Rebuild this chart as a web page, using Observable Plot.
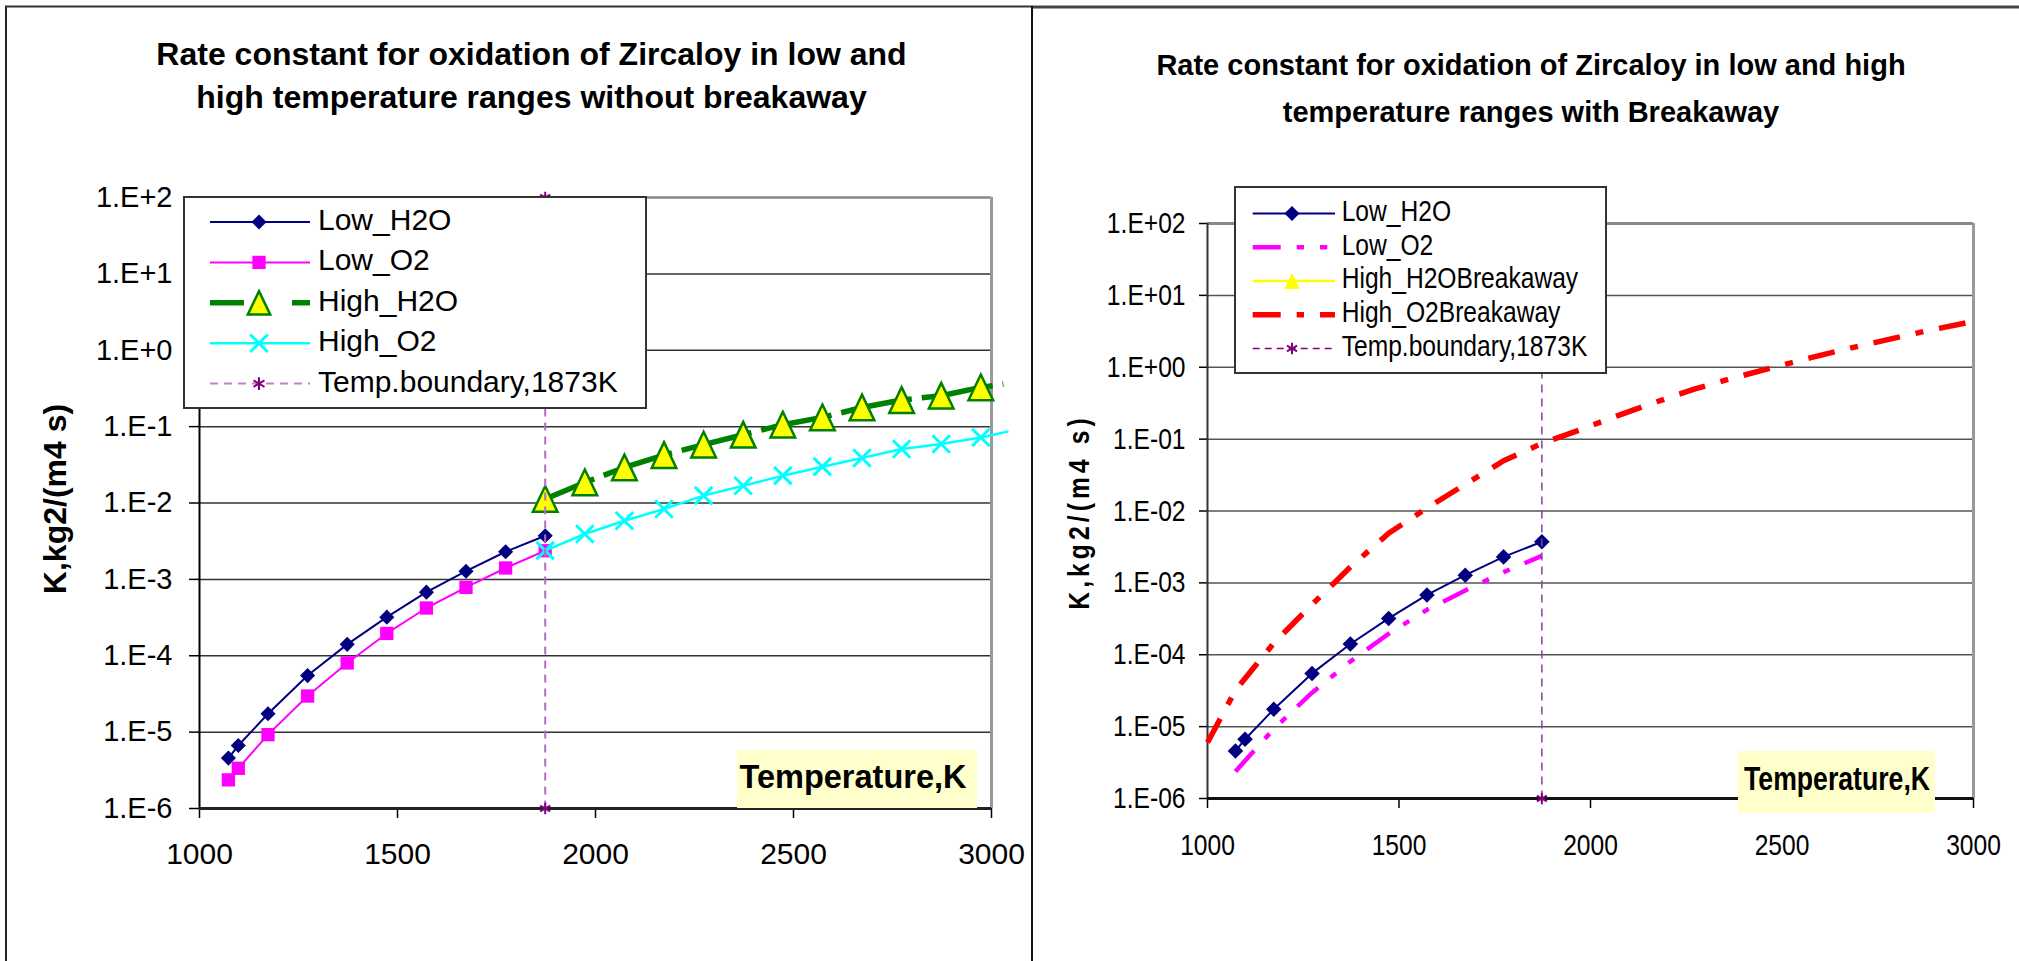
<!DOCTYPE html>
<html><head><meta charset="utf-8">
<script src="https://cdn.jsdelivr.net/npm/d3@7"></script>
<script src="https://cdn.jsdelivr.net/npm/@observablehq/plot@0.6"></script>
<style>
html,body{margin:0;padding:0;background:#fff;}
#root{position:relative;width:2019px;height:961px;overflow:hidden;background:#fff;}
#root svg{position:absolute;}
</style></head><body><div id="root"></div>
<script>
// ---------------- DATA ----------------
const xDomain = [1000, 3000];
const yDomain = [1e-6, 100];
const xTicks = [1000, 1500, 2000, 2500, 3000];
const yTicks = [1e-6, 1e-5, 1e-4, 1e-3, 1e-2, 1e-1, 1, 10, 100];
const yTickLabelsLeft = ["1.E-6","1.E-5","1.E-4","1.E-3","1.E-2","1.E-1","1.E+0","1.E+1","1.E+2"];
const yTickLabelsRight = ["1.E-06","1.E-05","1.E-04","1.E-03","1.E-02","1.E-01","1.E+00","1.E+01","1.E+02"];

// low temperature range
const lowT   = [1073, 1098, 1173, 1273, 1373, 1473, 1573, 1673, 1773, 1873];
const lowH2O = [4.57e-6, 6.68e-6, 1.74e-5, 5.5e-5, 1.41e-4, 3.2e-4, 6.8e-4, 1.28e-3, 2.3e-3, 3.73e-3];
const lowO2  = [2.37e-6, 3.36e-6, 9.27e-6, 2.97e-5, 8.05e-5, 1.96e-4, 4.22e-4, 7.85e-4, 1.41e-3, 2.37e-3];

// high temperature range (left chart)
const highT   = [1873, 1973, 2073, 2173, 2273, 2373, 2473, 2573, 2673, 2773, 2873, 2973];
const highH2O = [0.0113, 0.0186, 0.0292, 0.0425, 0.058, 0.0783, 0.106, 0.132, 0.178, 0.223, 0.254, 0.326];
const highO2  = [2.38e-3, 3.93e-3, 5.86e-3, 8.34e-3, 1.25e-2, 1.68e-2, 2.28e-2, 2.99e-2, 3.88e-2, 5.09e-2, 5.92e-2, 7.22e-2];
// visible end of the lines just past the plot edge
const highH2OTailT = [3030], highH2OTailK = [0.36];
const highO2TailT  = [3040], highO2TailK  = [0.086];

// breakaway (right chart)
const breakT  = [1000, 1073, 1173, 1273, 1373, 1473, 1573, 1673, 1773, 1873, 1973, 2073, 2173, 2273, 2373, 2473, 2573, 2673, 2773, 2873, 2973, 3000];
const breakO2 = [6.0e-6, 3.2e-5, 1.45e-4, 5.0e-4, 1.66e-3, 4.9e-3, 1.1e-2, 2.35e-2, 5.0e-2, 8.7e-2, 0.135, 0.214, 0.331, 0.50, 0.71, 0.98, 1.35, 1.82, 2.40, 3.16, 4.07, 4.32];

// temperature boundary
const boundaryT = [1873, 1873];
const boundaryK = [1e-6, 100];

const leftTitle  = ["Rate constant for oxidation of Zircaloy in low and", "high temperature ranges without breakaway"];
const rightTitle = ["Rate constant for oxidation of Zircaloy in low and high", "temperature ranges with Breakaway"];
const yTitle = "K,kg2/(m4 s)";
const xTitle = "Temperature,K";
const leftLegendLabels  = ["Low_H2O", "Low_O2", "High_H2O", "High_O2", "Temp.boundary,1873K"];
const rightLegendLabels = ["Low_H2O", "Low_O2", "High_H2OBreakaway", "High_O2Breakaway", "Temp.boundary,1873K"];

// ---------------- HELPERS ----------------
const rows = (T, K) => T.map((t, i) => ({T: t, K: K[i]}));
const LF = '"Liberation Sans", Arial, Helvetica, sans-serif';
const SQ = 0.82; // horizontal squeeze of the right-hand chart's text

const tri = {draw(ctx, size) { const r = Math.sqrt(size / Math.PI);
  ctx.moveTo(0, -1.17 * r); ctx.lineTo(1.12 * r, 1.17 * r); ctx.lineTo(-1.12 * r, 1.17 * r); ctx.closePath(); }};

const lblL = new Map(yTicks.map((t, i) => [t, yTickLabelsLeft[i]]));
const lblR = new Map(yTicks.map((t, i) => [t, yTickLabelsRight[i]]));

// squeeze text horizontally around its anchor point
function squeeze(nodes, k) {
  nodes.forEach(node => {
    const b = node.getBBox();
    const anchor = getComputedStyle(node).textAnchor || node.getAttribute("text-anchor") || "start";
    const ax = anchor === "end" ? b.x + b.width : anchor === "middle" ? b.x + b.width / 2 : b.x;
    const t = node.getAttribute("transform") || "";
    node.setAttribute("transform", `${t} translate(${ax},0) scale(${k},1) translate(${-ax},0)`);
  });
}

const root = document.getElementById("root");

// ---------------- LEFT CHART ----------------
const left = Plot.plot({
  width: 1031, height: 961,
  marginLeft: 199, marginRight: 40, marginTop: 197, marginBottom: 153,
  style: {fontFamily: LF, overflow: "visible", background: "transparent", color: "#000"},
  x: {domain: xDomain},
  y: {type: "log", domain: yDomain},
  marks: [
    Plot.gridY(yTicks.slice(1, -1), {stroke: "#333", strokeOpacity: 1, strokeWidth: 1.5}),
    Plot.ruleY([yDomain[1]], {stroke: "#888", strokeWidth: 2.5}),
    Plot.ruleX([xDomain[1]], {stroke: "#999", strokeWidth: 3}),
    Plot.axisY({ticks: yTicks, tickFormat: d => lblL.get(d), tickSize: 10, tickPadding: 17, fontSize: 29, label: null, strokeWidth: 1.5}),
    Plot.axisX({ticks: xTicks, tickFormat: d => String(d), tickSize: 10, tickPadding: 24, fontSize: 30, label: null, strokeWidth: 1.5}),
    Plot.ruleX([xDomain[0]], {stroke: "#000", strokeWidth: 2}),
    Plot.ruleY([yDomain[0]], {stroke: "#222", strokeWidth: 3}),
    // Low_H2O
    Plot.line(rows(lowT, lowH2O), {x: "T", y: "K", stroke: "#000080", strokeWidth: 2}),
    Plot.dot(rows(lowT, lowH2O), {x: "T", y: "K", symbol: "diamond2", r: 6.8, fill: "#000080"}),
    // Low_O2
    Plot.line(rows(lowT, lowO2), {x: "T", y: "K", stroke: "#FF00FF", strokeWidth: 2}),
    Plot.dot(rows(lowT, lowO2), {x: "T", y: "K", symbol: "square", r: 7.5, fill: "#FF00FF"}),
    // High_H2O
    Plot.line(rows(highT.concat(highH2OTailT), highH2O.concat(highH2OTailK)), {x: "T", y: "K", stroke: "#008000", strokeWidth: 5.5, strokeDasharray: "72,10", strokeDashoffset: 19, strokeLinecap: "butt"}),
    Plot.dot(rows(highT, highH2O), {x: "T", y: "K", symbol: tri, r: 11, fill: "#FFFF00", stroke: "#008000", strokeWidth: 2.5}),
    // High_O2
    Plot.line(rows(highT.concat(highO2TailT), highO2.concat(highO2TailK)), {x: "T", y: "K", stroke: "#00FFFF", strokeWidth: 2.5}),
    Plot.dot(rows(highT, highO2), {x: "T", y: "K", symbol: "times", r: 8, stroke: "#00FFFF", strokeWidth: 3, fill: "none"}),
    // boundary
    Plot.line(rows(boundaryT, boundaryK), {x: "T", y: "K", stroke: "#B56BC4", strokeWidth: 2, strokeDasharray: "8,6", strokeLinecap: "butt"}),
    Plot.dot(rows(boundaryT, boundaryK), {x: "T", y: "K", symbol: "asterisk", r: 5.5, stroke: "#800080", strokeWidth: 2, fill: "none"})
  ]
});
left.style.left = "0px"; left.style.top = "0px";
root.appendChild(left);

// ---------------- RIGHT CHART ----------------
const right = Plot.plot({
  width: 988, height: 961,
  marginLeft: 176, marginRight: 46, marginTop: 223, marginBottom: 163,
  style: {fontFamily: LF, overflow: "visible", background: "transparent", color: "#000"},
  x: {domain: xDomain},
  y: {type: "log", domain: yDomain},
  marks: [
    Plot.gridY(yTicks.slice(1, -1), {stroke: "#555", strokeOpacity: 1, strokeWidth: 1.5}),
    Plot.ruleY([yDomain[1]], {stroke: "#888", strokeWidth: 3}),
    Plot.ruleX([xDomain[1]], {stroke: "#999", strokeWidth: 3}),
    Plot.axisY({ticks: yTicks, tickFormat: d => lblR.get(d), tickSize: 8, tickPadding: 14, fontSize: 30, label: null, strokeWidth: 1.5}),
    Plot.axisX({ticks: xTicks, tickFormat: d => String(d), tickSize: 10, tickPadding: 25, fontSize: 30, label: null, strokeWidth: 1.5}),
    Plot.ruleX([xDomain[0]], {stroke: "#333", strokeWidth: 2}),
    Plot.ruleY([yDomain[0]], {stroke: "#111", strokeWidth: 3}),
    // Low_H2O
    Plot.line(rows(lowT, lowH2O), {x: "T", y: "K", stroke: "#000080", strokeWidth: 2}),
    Plot.dot(rows(lowT, lowH2O), {x: "T", y: "K", symbol: "diamond2", r: 7, fill: "#000080"}),
    // Low_O2 dash-dot-dot
    Plot.line(rows(lowT, lowO2), {x: "T", y: "K", stroke: "#FF00FF", strokeWidth: 4.5, strokeDasharray: "28,16,7,16,7,16", strokeLinecap: "butt"}),
    // High_O2Breakaway dash-dot
    Plot.line(rows(breakT, breakO2), {x: "T", y: "K", stroke: "#FF0000", strokeWidth: 5.5, strokeDasharray: "27,16,8,16", strokeLinecap: "butt"}),
    // boundary
    Plot.line(rows(boundaryT, boundaryK), {x: "T", y: "K", stroke: "#8E3C9E", strokeWidth: 1.5, strokeDasharray: "8,6", strokeLinecap: "butt"}),
    Plot.dot(rows(boundaryT, boundaryK), {x: "T", y: "K", symbol: "asterisk", r: 5.5, stroke: "#800080", strokeWidth: 2, fill: "none"})
  ]
});
right.style.left = "1031px"; right.style.top = "0px";
root.appendChild(right);
squeeze(Array.from(right.querySelectorAll("text")), SQ);

// ---------------- OVERLAY (frames, titles, legends, labels) ----------------
const ov = d3.select(root).append("svg").attr("width", 2019).attr("height", 961)
  .style("left", "0px").style("top", "0px");

// panel borders
ov.append("line").attr("x1", 6).attr("y1", 6).attr("x2", 6).attr("y2", 961).attr("stroke", "#222").attr("stroke-width", 2);
ov.append("line").attr("x1", 5).attr("y1", 6.5).attr("x2", 1032).attr("y2", 6.5).attr("stroke", "#333").attr("stroke-width", 2);
ov.append("line").attr("x1", 1032).attr("y1", 7).attr("x2", 2019).attr("y2", 7).attr("stroke", "#444").attr("stroke-width", 3);
ov.append("line").attr("x1", 1032).attr("y1", 6).attr("x2", 1032).attr("y2", 961).attr("stroke", "#111").attr("stroke-width", 2);

// titles
function title(lines, cx, y0, dy, size) {
  lines.forEach((t, i) => ov.append("text").attr("x", cx).attr("y", y0 + i * dy)
    .attr("text-anchor", "middle").attr("font-family", LF).attr("font-weight", "bold")
    .attr("font-size", size).attr("fill", "#000").text(t));
}
title(leftTitle, 531.5, 65, 43, 32);
title(rightTitle, 1531, 75, 47, 29);

// y axis titles
ov.append("text").attr("transform", "translate(66,499) rotate(-90)").attr("text-anchor", "middle")
  .attr("font-family", LF).attr("font-weight", "bold").attr("font-size", 32).text(yTitle);
ov.append("text").attr("transform", `translate(1089,512) rotate(-90) scale(${SQ},1)`).attr("text-anchor", "middle")
  .attr("font-family", LF).attr("font-weight", "bold").attr("font-size", 30)
  .attr("letter-spacing", 5).text(yTitle);

// x axis title boxes
ov.append("rect").attr("x", 737).attr("y", 750).attr("width", 240).attr("height", 58).attr("fill", "#FFFFCC");
ov.append("text").attr("x", 853).attr("y", 788).attr("text-anchor", "middle").attr("font-family", LF)
  .attr("font-weight", "bold").attr("font-size", 32.5).text(xTitle);
ov.append("rect").attr("x", 1738).attr("y", 751).attr("width", 197).attr("height", 62).attr("fill", "#FFFFCC");
const rxt = ov.append("text").attr("x", 1837).attr("y", 790).attr("text-anchor", "middle").attr("font-family", LF)
  .attr("font-weight", "bold").attr("font-size", 32.5).text(xTitle);
squeeze([rxt.node()], SQ);

// legends
function legend(cfg) {
  const g = ov.append("g");
  g.append("rect").attr("x", cfg.x).attr("y", cfg.y).attr("width", cfg.w).attr("height", cfg.h)
    .attr("fill", "#fff").attr("stroke", "#333").attr("stroke-width", 2);
  const texts = [];
  cfg.items.forEach((it, i) => {
    const y = cfg.y0 + i * cfg.step;
    g.append("line").attr("x1", cfg.lx0).attr("x2", cfg.lx1).attr("y1", y).attr("y2", y)
      .attr("stroke", it.stroke).attr("stroke-width", it.width)
      .attr("stroke-dasharray", it.dash || null);
    if (it.symbol) {
      g.append("path").attr("transform", `translate(${cfg.mx},${y})`)
        .attr("d", d3.symbol().type(it.symbol).size(Math.PI * it.r * it.r)())
        .attr("fill", it.fill || "none").attr("stroke", it.mstroke || "none")
        .attr("stroke-width", it.mwidth || 0);
    }
    texts.push(g.append("text").attr("x", cfg.tx).attr("y", y + cfg.bo).attr("font-family", LF)
      .attr("font-size", cfg.size).attr("fill", "#000").text(cfg.labels[i]).node());
  });
  if (cfg.sq) squeeze(texts, cfg.sq);
}
legend({
  x: 184, y: 197, w: 462, h: 211, y0: 222, step: 40.4, lx0: 210, lx1: 310, mx: 259, tx: 318, bo: 8,
  size: 30, labels: leftLegendLabels,
  items: [
    {stroke: "#000080", width: 2, symbol: d3.symbolDiamond2, r: 6.8, fill: "#000080"},
    {stroke: "#FF00FF", width: 2, symbol: d3.symbolSquare, r: 7.5, fill: "#FF00FF"},
    {stroke: "#008000", width: 5.5, dash: "34,48", symbol: tri, r: 10, fill: "#FFFF00", mstroke: "#008000", mwidth: 2.5},
    {stroke: "#00FFFF", width: 2.5, symbol: d3.symbolTimes, r: 8, mstroke: "#00FFFF", mwidth: 3},
    {stroke: "#C080C8", width: 2, dash: "8,6", symbol: d3.symbolAsterisk, r: 6, mstroke: "#800080", mwidth: 2}
  ]
});
legend({
  x: 1235, y: 187, w: 371, h: 186, y0: 213.5, step: 33.75, lx0: 1252.7, lx1: 1335, mx: 1292, tx: 1341.7, bo: 7.5,
  size: 30, sq: SQ, labels: rightLegendLabels,
  items: [
    {stroke: "#000080", width: 2, symbol: d3.symbolDiamond2, r: 6.8, fill: "#000080"},
    {stroke: "#FF00FF", width: 4.5, dash: "28,16,7.3,16,7.3,16"},
    {stroke: "#FFFF00", width: 2.5, symbol: tri, r: 6.8, fill: "#FFFF00"},
    {stroke: "#FF0000", width: 5.5, dash: "28,16,7.3,16"},
    {stroke: "#800080", width: 1.5, dash: "7,5", symbol: d3.symbolAsterisk, r: 5.5, mstroke: "#800080", mwidth: 2}
  ]
});
</script></body></html>
